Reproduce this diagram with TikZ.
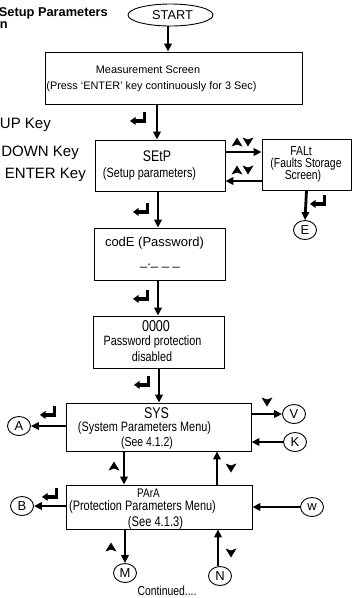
\documentclass[tikz,border=0pt]{standalone}
\usepackage{fontspec}
\setmainfont{Liberation Sans}
\newfontfamily\nrw[FakeStretch=0.8]{Liberation Sans}
\usetikzlibrary{arrows.meta,shapes.geometric}
\newcommand\fsz[1]{\fontsize{#1}{#1}\selectfont}

\begin{document}
\begin{tikzpicture}[x=1pt,y=-1pt,
  box/.style={draw, line width=0.9pt, rectangle, inner sep=0pt},
  bub/.style={draw, line width=0.9pt, ellipse, inner sep=0pt,
    minimum width=23pt, minimum height=19pt, font=\fsz{13}},
  arr/.style={line width=2.8pt, -{Triangle[length=8pt,width=7.5pt]}},
  txt/.style={inner sep=0pt},
  enterkey/.pic={
    \fill (16,0) rectangle (12.8,10.5);
    \fill (16,10.5) rectangle (5,7.3);
    \fill (0,8.9) -- (5.5,4.9) -- (5.5,12.9) -- cycle;
  },
  uptri/.pic={\fill (-5.5,4.5) -- (0,-4.5) -- (5.5,4.5) -- (0,2.5) -- cycle;},
  downtri/.pic={\fill (-5.5,-4.5) -- (0,4.5) -- (5.5,-4.5) -- (0,-2.5) -- cycle;}
]
\useasboundingbox (0,0) rectangle (352,598);

% legend
\node[txt, anchor=base east, font=\bfseries\fsz{12.8}] (ttl1) at (108,16.5) {Setup Parameters};
\node[txt, anchor=base east, font=\bfseries\fsz{12.8}] (ttl2) at (8,28) {n};
\node[txt, anchor=base east, font=\fsz{15}] (kup) at (51,128) {UP Key};
\node[txt, anchor=base east, font=\fsz{15}] (kdn) at (79,156) {DOWN Key};
\node[txt, anchor=base east, font=\fsz{15}] (ken) at (86,178) {ENTER Key};

% start
\node[draw, line width=0.9pt, ellipse, inner sep=0pt, minimum width=85pt, minimum height=22pt] (start) at (170.5,15) {};
\node[txt, font=\fsz{12.8}] (tstart) at (172.5,15) {START};

% boxes
\node[box, minimum width=257pt, minimum height=52pt] (meas) at (173.5,78) {};
\node[box, minimum width=130pt, minimum height=51pt] (setp) at (160,165.5) {};
\node[box, minimum width=89pt, minimum height=51pt] (falt) at (306.5,164.5) {};
\node[box, minimum width=131pt, minimum height=52pt] (code) at (159.5,254) {};
\node[box, minimum width=131pt, minimum height=52pt] (pwd) at (158.5,342) {};
\node[box, minimum width=185pt, minimum height=48pt] (sys) at (158.5,427) {};
\node[box, minimum width=186pt, minimum height=44pt] (para) at (159,507) {};

% box texts
\node[txt, font=\fsz{10.9}] (m1) at (148,70) {Measurement Screen};
\node[txt, font=\fsz{10.9}] (m2) at (151.5,87) {(Press ‘ENTER’ key continuously for 3 Sec)};
\node[txt, font=\nrw\fsz{15.4}] (s1) at (157,156) {SEtP};
\node[txt, font=\nrw\fsz{13.5}] (s2) at (149.5,174) {(Setup parameters)};
\node[txt, font=\nrw\fsz{13}] (f1) at (301,151) {FALt};
\node[txt, font=\nrw\fsz{13}] (f2) at (306,164) {(Faults Storage};
\node[txt, font=\nrw\fsz{13}] (f3) at (303,176) {Screen)};
\node[txt, font=\fsz{13}] (c1) at (154.5,243) {codE (Password)};
\node[txt, font=\fsz{13}, anchor=base] (c2) at (160,265) {\_.\_ \_ \_};
\node[txt, font=\nrw\fsz{15.7}] (p1) at (156,326) {0000};
\node[txt, font=\nrw\fsz{13.5}] (p2) at (152.5,342) {Password protection};
\node[txt, font=\nrw\fsz{13.5}] (p3) at (152,357) {disabled};
\node[txt, font=\nrw\fsz{15.6}] (y1) at (156.5,413) {SYS};
\node[txt, font=\nrw\fsz{13.6}] (y2) at (144.5,428) {(System Parameters Menu)};
\node[txt, font=\nrw\fsz{13.1}] (y3) at (147,443) {(See 4.1.2)};
\node[txt, font=\nrw\fsz{12.5}] (r1) at (148.5,493) {PArA};
\node[txt, font=\nrw\fsz{13.7}] (r2) at (142.5,507) {(Protection Parameters Menu)};
\node[txt, font=\nrw\fsz{13.9}] (r3) at (155.5,523) {(See 4.1.3)};
\node[txt, font=\nrw\fsz{13}, anchor=base] (cont) at (167,595) {Continued....};

% connector ends
\node[bub] (E) at (305,230) {E};
\node[bub] (A) at (19,426) {A};
\node[bub] (V) at (294,414) {V};
\node[bub] (K) at (295,442) {K};
\node[bub] (B) at (22,506) {B};
\node[bub] (W) at (312,507) {w};
\node[bub] (M) at (125,573) {M};
\node[bub] (N) at (220,576) {N};

% main flow
\draw[arr] ([xshift=-2.5pt]start.south) -- ([xshift=-5.5pt]meas.north);
\draw[arr] ([xshift=-16.5pt]meas.south) -- ([xshift=-3pt]setp.north);
\draw[arr] ([xshift=-2pt]setp.south) -- ([xshift=-1.5pt]code.north);
\draw[arr] ([xshift=-1.5pt]code.south) -- ([xshift=-0.5pt]pwd.north);
\draw[arr] ([xshift=0.5pt]pwd.south) -- ([xshift=0.5pt]sys.north);
\draw[arr] ([xshift=-34.5pt]sys.south) -- ([xshift=-35pt]para.north);
\draw[arr] ([xshift=58pt]para.north) -- ([xshift=58.5pt]sys.south);
\draw[arr] ([xshift=-34pt]para.south) -- (M.north);
\draw[arr] ([xshift=-2pt]N.north) -- ([xshift=59pt]para.south);

% side branches
\draw[arr] ([yshift=13.5pt]setp.east) -- ([yshift=12.5pt]falt.west);
\draw[arr] ([yshift=-16.5pt]falt.west) -- ([yshift=-15.5pt]setp.east);
\draw[arr] (falt.south) -- (E.north);
\draw[arr] ([yshift=1pt]sys.west) -- (A.east);
\draw[arr] ([yshift=13pt]sys.east) -- (V.west);
\draw[arr] (K.west) -- ([yshift=-15pt]sys.east);
\draw[arr] ([yshift=1pt]para.west) -- (B.east);
\draw[arr] (W.west) -- (para.east);

% key symbols
\pic at (130,112) {enterkey};
\pic at (133,203) {enterkey};
\pic at (133,290) {enterkey};
\pic at (134,376) {enterkey};
\pic at (310,195) {enterkey};
\pic at (40,406) {enterkey};
\pic at (42,488) {enterkey};
\pic at (237,142) {uptri};
\pic at (248,142) {downtri};
\pic at (237,170) {uptri};
\pic at (248,170) {downtri};
\pic at (267,402) {downtri};
\pic at (114,466) {uptri};
\pic at (231,468) {downtri};
\pic at (111,547) {uptri};
\pic at (231,553) {downtri};
\end{tikzpicture}
\end{document}
